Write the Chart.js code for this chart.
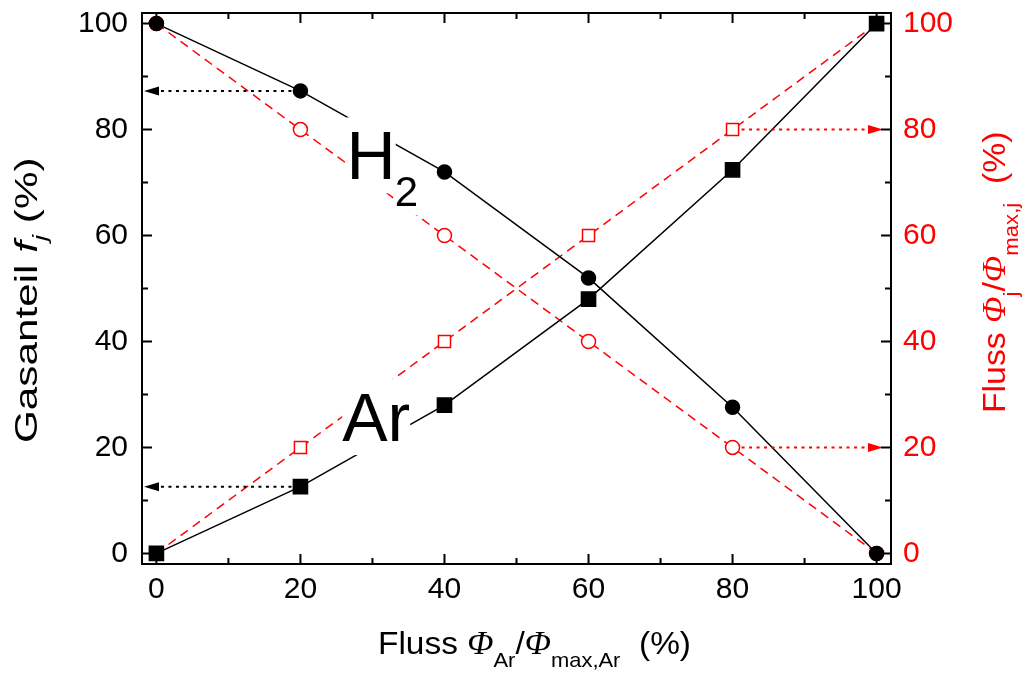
<!DOCTYPE html>
<html>
<head>
<meta charset="utf-8">
<script src="https://cdn.jsdelivr.net/npm/chart.js@4.4.0/dist/chart.umd.min.js"></script>
<style>
  html, body { margin: 0; padding: 0; background: #fff; }
  #chart { display: block; }
</style>
</head>
<body>
<canvas id="chart" width="1027" height="675"></canvas>
<script>
// values
const flowAr = [0, 20, 40, 60, 80, 100];          // Fluss Ar (%)
const fracH2 = [100, 87.3, 72, 52, 27.6, 0];      // Gasanteil H2
const fracAr = [0, 12.6, 28, 48, 72.4, 100];      // Gasanteil Ar
const fluxH2 = [100, 80, 60, 40, 20, 0];          // Fluss H2 / max
const fluxAr = [0, 20, 40, 60, 80, 100];          // Fluss Ar / max
const xTicks = [0, 20, 40, 60, 80, 100];
const yTicks = [0, 20, 40, 60, 80, 100];

const SANS = '"Liberation Sans", Arial, sans-serif';
const SERIF = '"Liberation Serif", "Times New Roman", serif';
const RED = '#ff0000';

function pts(ys) {
    return flowAr.map((x, i) => ({ x: x, y: ys[i] }));
}

function drawRuns(ctx, runs, x, y) {
    runs.forEach(r => {
        ctx.font = r.f;
        ctx.fillText(r.t, x, y + (r.dy || 0));
        x += ctx.measureText(r.t).width;
    });
    return x;
}

// text with a white em-box behind it (like the H2 / Ar labels)
function boxedText(ctx, text, font, x, y) {
    ctx.font = font;
    const m = ctx.measureText(text);
    const asc = m.fontBoundingBoxAscent || parseFloat(font) * 0.905;
    const desc = m.fontBoundingBoxDescent || parseFloat(font) * 0.212;
    ctx.fillStyle = '#fff';
    ctx.fillRect(x, y - asc, m.width, asc + desc);
    ctx.fillStyle = '#000';
    ctx.fillText(text, x, y);
    return m.width;
}

function arrow(ctx, x0, x1, y, color) {
    const dir = Math.sign(x1 - x0);
    const head = 15, half = 4.5;
    ctx.strokeStyle = color;
    ctx.fillStyle = color;
    ctx.lineWidth = 2;
    ctx.setLineDash([3, 4.5]);
    ctx.beginPath();
    ctx.moveTo(x0, y);
    ctx.lineTo(x1 - dir * head, y);
    ctx.stroke();
    ctx.setLineDash([]);
    ctx.beginPath();
    ctx.moveTo(x1, y);
    ctx.lineTo(x1 - dir * head, y - half);
    ctx.lineTo(x1 - dir * head, y + half);
    ctx.closePath();
    ctx.fill();
}

const decor = {
    id: 'decor',
    afterDatasetsDraw(chart) {
        const { ctx, chartArea: a, scales } = chart;
        const xs = scales.x, ys = scales.y, ys2 = scales.y2;
        ctx.save();

        // species labels
        let hx = xs.getPixelForValue(26.4), hy = ys.getPixelForValue(70.6);
        const w = boxedText(ctx, 'H', '68px ' + SANS, hx, hy);
        boxedText(ctx, '2', '42px ' + SANS, hx + w - 1, hy + 27);
        boxedText(ctx, 'Ar', '68px ' + SANS, xs.getPixelForValue(25.8), ys.getPixelForValue(21.2));

        // dotted arrows to the axes
        arrow(ctx, xs.getPixelForValue(flowAr[1]) - 9, a.left + 2, ys.getPixelForValue(fracH2[1]), '#000');
        arrow(ctx, xs.getPixelForValue(flowAr[1]) - 9, a.left + 2, ys.getPixelForValue(fracAr[1]), '#000');
        arrow(ctx, xs.getPixelForValue(flowAr[4]) + 9, a.right - 8, ys2.getPixelForValue(fluxAr[4]), RED);
        arrow(ctx, xs.getPixelForValue(flowAr[4]) + 9, a.right - 8, ys2.getPixelForValue(fluxH2[4]), RED);

        // frame and inward ticks
        ctx.strokeStyle = '#000';
        ctx.lineWidth = 2;
        ctx.setLineDash([]);
        ctx.strokeRect(a.left, a.top, a.right - a.left, a.bottom - a.top);
        ctx.beginPath();
        for (let v = 0; v <= 100; v += 10) {
            const len = v % 20 === 0 ? 10 : 6;
            const px = xs.getPixelForValue(v);
            ctx.moveTo(px, a.bottom); ctx.lineTo(px, a.bottom - len);
            ctx.moveTo(px, a.top); ctx.lineTo(px, a.top + len);
            const py = ys.getPixelForValue(v);
            ctx.moveTo(a.left, py); ctx.lineTo(a.left + len, py);
            const py2 = ys2.getPixelForValue(v);
            ctx.moveTo(a.right, py2); ctx.lineTo(a.right - len, py2);
        }
        ctx.stroke();

        // axis titles
        const big = '32px ' + SANS, sub = '21px ' + SANS, phi = 'italic 33px ' + SERIF;
        ctx.fillStyle = '#000';
        ctx.textBaseline = 'alphabetic';
        ctx.save();
        ctx.translate(378, 654);
        ctx.scale(1.045, 1);
        drawRuns(ctx, [
            { t: 'Fluss ', f: big },
            { t: 'Φ', f: phi },
            { t: 'Ar', f: sub, dy: 13 },
            { t: '/', f: big },
            { t: 'Φ', f: phi },
            { t: 'max,Ar', f: sub, dy: 13 },
            { t: '  (%)', f: big }
        ], 0, 0);
        ctx.restore();

        ctx.save();
        ctx.translate(37, 443);
        ctx.rotate(-Math.PI / 2);
        ctx.scale(1.32, 1);
        drawRuns(ctx, [
            { t: 'Gasanteil ', f: big },
            { t: 'f', f: 'italic ' + big },
            { t: 'j', f: 'italic ' + sub, dy: 10 },
            { t: ' (%)', f: big }
        ], 0, 0);
        ctx.restore();

        ctx.save();
        ctx.translate(1005, 413);
        ctx.rotate(-Math.PI / 2);
        ctx.scale(1.055, 1);
        ctx.fillStyle = RED;
        drawRuns(ctx, [
            { t: 'Fluss ', f: big },
            { t: 'Φ', f: phi },
            { t: 'j', f: sub, dy: 13 },
            { t: '/', f: big },
            { t: 'Φ', f: phi },
            { t: 'max,j', f: sub, dy: 13 },
            { t: '  (%)', f: big }
        ], 0, 0);
        ctx.restore();

        ctx.restore();
    }
};

function noPad(s) {
    s.paddingTop = 0;
    s.paddingBottom = 0;
    s.paddingLeft = 0;
    s.paddingRight = 0;
}

function yScale(pos, color, width, pad) {
    return {
        type: 'linear',
        position: pos,
        min: -2,
        max: 102,
        grid: { display: false, drawTicks: false },
        border: { display: false },
        afterBuildTicks: s => { s.ticks = yTicks.map(v => ({ value: v })); },
        afterFit: s => { s.width = width; noPad(s); },
        ticks: { color: color, padding: pad, font: { family: SANS, size: 30 } }
    };
}

new Chart(document.getElementById('chart'), {
    type: 'line',
    data: {
        datasets: [
            {
                data: pts(fracH2), yAxisID: 'y',
                borderColor: '#000', borderWidth: 1.5,
                pointStyle: 'circle', pointRadius: 7,
                pointBackgroundColor: '#000', pointBorderColor: '#000'
            },
            {
                data: pts(fracAr), yAxisID: 'y',
                borderColor: '#000', borderWidth: 1.5,
                pointStyle: 'rect', pointRadius: 10,
                pointBackgroundColor: '#000', pointBorderColor: '#000'
            },
            {
                data: pts(fluxH2), yAxisID: 'y2',
                borderColor: RED, borderWidth: 1.5, borderDash: [9, 6],
                pointStyle: 'circle', pointRadius: 7, pointBorderWidth: 1.5,
                pointBackgroundColor: '#fff', pointBorderColor: RED
            },
            {
                data: pts(fluxAr), yAxisID: 'y2',
                borderColor: RED, borderWidth: 1.5, borderDash: [9, 6],
                pointStyle: 'rect', pointRadius: 8.5, pointBorderWidth: 1.5,
                pointBackgroundColor: '#fff', pointBorderColor: RED
            }
        ]
    },
    options: {
        responsive: false,
        animation: false,
        events: [],
        devicePixelRatio: 1,
        layout: { padding: { top: 13 } },
        plugins: { legend: { display: false }, tooltip: { enabled: false } },
        scales: {
            x: {
                type: 'linear',
                min: -2,
                max: 102,
                grid: { display: false, drawTicks: false },
                border: { display: false },
                afterBuildTicks: s => { s.ticks = xTicks.map(v => ({ value: v })); },
                afterFit: s => { s.height = 111; noPad(s); },
                ticks: { color: '#000', padding: 8, font: { family: SANS, size: 30 } }
            },
            y: yScale('left', '#000', 142, 14),
            y2: yScale('right', RED, 136, 12)
        }
    },
    plugins: [decor]
});
</script>
</body>
</html>
